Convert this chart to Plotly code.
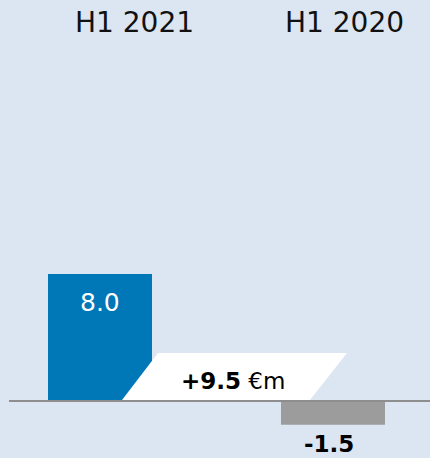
import plotly.graph_objects as go

categories = ["H1 2021", "H1 2020"]
values = [8.0, -1.5]
bar_colors = ["#0077b7", "#9c9c9c"]
value_labels = ["8.0", "-1.5"]
diff = values[0] - values[1]

FONT = "DejaVu Sans"
W, H = 430, 458
px_per_unit = 15.875
base_px = 401

ymax = base_px / px_per_unit
ymin = -(H - base_px) / px_per_unit
cx0, cx1 = 100, 333
upx = cx1 - cx0
xmin = -cx0 / upx
xmax = 1 + (W - cx1) / upx

fig = go.Figure()
fig.add_trace(go.Bar(
    x=categories, y=values, marker=dict(color=bar_colors, line=dict(width=0)),
    width=104 / upx, hoverinfo="skip", showlegend=False,
))

def px2x(p):
    return (p - cx0) / upx

def px2y(p):
    return (base_px - p) / px_per_unit

# parallelogram for difference
path = (f"M {px2x(122)} {px2y(400)} L {px2x(158)} {px2y(353)} "
        f"L {px2x(347)} {px2y(353)} L {px2x(310)} {px2y(400)} Z")
fig.add_shape(type="path", path=path, xref="x", yref="y",
              fillcolor="white", line=dict(width=0), layer="above")

# baseline
fig.add_shape(type="line", xref="paper", yref="y", x0=9 / W, x1=1, y0=0, y1=0,
              line=dict(color="#8e8e8e", width=2), layer="above")

# difference label
fig.add_annotation(x=px2x(233), y=px2y(381), xref="x", yref="y",
                   text=f"<b>+{diff:.1f}</b> €m", showarrow=False,
                   xanchor="center", yanchor="middle",
                   font=dict(family=FONT, size=23, color="#000000"))

# value labels
fig.add_annotation(x=categories[0], y=values[0], xref="x", yref="y",
                   text=value_labels[0], showarrow=False, xanchor="center",
                   yanchor="middle", yshift=-28,
                   font=dict(family=FONT, size=25, color="white"))
fig.add_annotation(x=px2x(329), y=values[1], xref="x", yref="y",
                   text=f"<b>{value_labels[1]}</b>", showarrow=False, xanchor="center",
                   yanchor="middle", yshift=-19,
                   font=dict(family=FONT, size=23, color="#000000"))

# headers
header_px = [134, 344]
for cat, hx in zip(categories, header_px):
    fig.add_annotation(x=hx / W, y=1 - 23 / H, xref="paper", yref="paper",
                       text=cat, showarrow=False, xanchor="center", yanchor="middle",
                       font=dict(family=FONT, size=28, color="#111111"))

fig.update_layout(
    width=W, height=H, margin=dict(l=0, r=0, t=0, b=0),
    paper_bgcolor="#dce6f2", plot_bgcolor="#dce6f2",
    xaxis=dict(type="category", range=[xmin, xmax], visible=False, fixedrange=True),
    yaxis=dict(range=[ymin, ymax], visible=False, fixedrange=True),
)

fig.write_html("out.html", config={"displayModeBar": False})
